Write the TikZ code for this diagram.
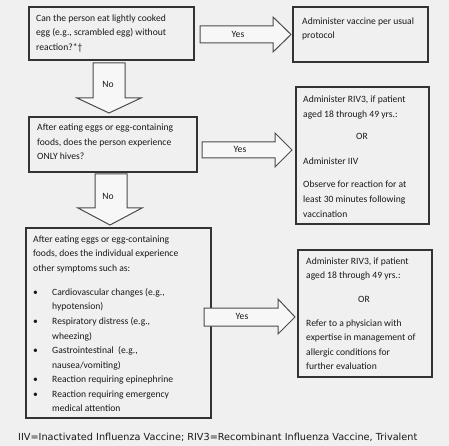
\documentclass[tikz,border=0pt]{standalone}
\usepackage{fontspec}
\setmainfont{Carlito}
\newfontfamily\footfont{DejaVu Sans}
\begin{document}
\begin{tikzpicture}[x=1pt,y=-1pt,
  line/.style={draw=black!80, line width=1.2pt},
  blockarrow/.style={draw=black!70, line width=1pt, fill=black!3, line join=miter},
  txt/.style={anchor=base west, inner sep=0pt, font=\fontsize{9.6}{11}\selectfont, text=black!90},
  lbl/.style={anchor=base, inner sep=0pt, font=\fontsize{9.6}{11}\selectfont, text=black!90},
  foot/.style={anchor=base west, inner sep=0pt, font=\footfont\fontsize{9.7}{11}\selectfont, text=black!90}]
\fill[black!6] (0,0) rectangle (449,446);
\useasboundingbox (0,0) rectangle (449,446);

% boxes
\draw[line] (29,7) rectangle (194,60);
\draw[line] (293,7) rectangle (428,62);
\draw[line] (29,117) rectangle (197,172);
\draw[line] (296,87) rectangle (429,224);
\draw[line] (26,228) rectangle (211,418);
\draw[line] (298,250) rectangle (432,377);

% block arrows
\draw[blockarrow] (200,26) -- (273,26) -- (273,17) -- (291,34.5) -- (273,52) -- (273,43) -- (200,43) -- cycle;
\draw[blockarrow] (202,142) -- (275,142) -- (275,133) -- (292,150) -- (275,167) -- (275,158) -- (202,158) -- cycle;
\draw[blockarrow] (204,308) -- (278,308) -- (278,299) -- (295,317) -- (278,334) -- (278,326) -- (204,326) -- cycle;
\draw[blockarrow] (93,63) -- (125,63) -- (125,98) -- (141,98) -- (109,113) -- (77,98) -- (93,98) -- cycle;
\draw[blockarrow] (95,174) -- (127,174) -- (127,208) -- (142,208) -- (110,225) -- (78,208) -- (95,208) -- cycle;

\node[lbl] (y1) at (238,37.5) {Yes};
\node[lbl] (y2) at (240,152.5) {Yes};
\node[lbl] (y3) at (242,319.5) {Yes};
\node[lbl] (n1) at (108,87.5) {No};
\node[lbl] (n2) at (108,199.5) {No};

% box 1
\node[txt] (b1a) at (36,21.5) {Can the person eat lightly cooked};
\node[txt] (b1b) at (36,35.5) {egg (e.g., scrambled egg) without};
\node[txt] (b1c) at (36,50.5) {reaction?*†};

% right box 1
\node[txt] (r1a) at (302,24.5) {Administer vaccine per usual};
\node[txt] (r1b) at (302,38.5) {protocol};

% box 2
\node[txt] (b2a) at (37,130.5) {After eating eggs or egg-containing};
\node[txt] (b2b) at (37,145.5) {foods, does the person experience};
\node[txt] (b2c) at (37,159.5) {ONLY hives?};

% right box 2
\node[txt] (r2a) at (303,102.5) {Administer RIV3, if patient};
\node[txt] (r2b) at (303,117.5) {aged 18 through 49 yrs.:};
\node[lbl] (r2c) at (362,139.5) {OR};
\node[txt] (r2d) at (303,164.5) {Administer IIV};
\node[txt] (r2e) at (303,187.5) {Observe for reaction for at};
\node[txt] (r2f) at (303,202.5) {least 30 minutes following};
\node[txt] (r2g) at (303,217.5) {vaccination};

% box 3
\node[txt] (b3a) at (33,242.5) {After eating eggs or egg-containing};
\node[txt] (b3b) at (33,256.5) {foods, does the individual experience};
\node[txt] (b3c) at (33,271.5) {other symptoms such as:};
\foreach \yy in {295.5,324.5,353.5,382.5,397.5}
  \node[txt] at (33,\yy) {•};
\node[txt] (b3d) at (52,295.5) {Cardiovascular changes (e.g.,};
\node[txt] (b3e) at (52,309.5) {hypotension)};
\node[txt] (b3f) at (52,324.5) {Respiratory distress (e.g.,};
\node[txt] (b3g) at (52,339.5) {wheezing)};
\node[txt] (b3h) at (52,353.5) {Gastrointestinal\ \ (e.g.,};
\node[txt] (b3i) at (52,368.5) {nausea/vomiting)};
\node[txt] (b3j) at (52,382.5) {Reaction requiring epinephrine};
\node[txt] (b3k) at (52,397.5) {Reaction requiring emergency};
\node[txt] (b3l) at (52,411.5) {medical attention};

% right box 3
\node[txt] (r3a) at (306,264.5) {Administer RIV3, if patient};
\node[txt] (r3b) at (306,278.5) {aged 18 through 49 yrs.:};
\node[lbl] (r3c) at (364,302.5) {OR};
\node[txt] (r3d) at (306,326.5) {Refer to a physician with};
\node[txt] (r3e) at (306,340.5) {expertise in management of};
\node[txt] (r3f) at (306,355.5) {allergic conditions for};
\node[txt] (r3g) at (306,369.5) {further evaluation};

% footer
\node[foot] (ft) at (18,440) {IIV=Inactivated Influenza Vaccine; RIV3=Recombinant Influenza Vaccine, Trivalent};
\end{tikzpicture}
\end{document}
